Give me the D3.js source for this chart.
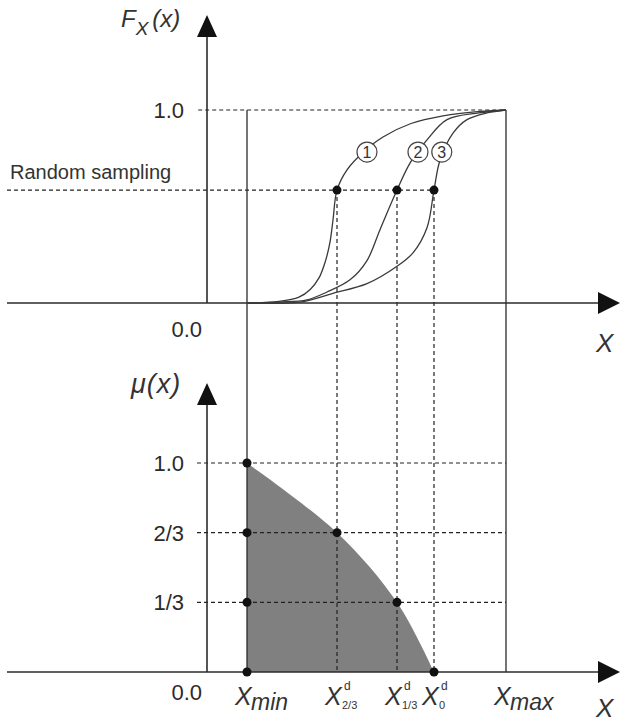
<!DOCTYPE html>
<html>
<head>
<meta charset="utf-8">
<script src="https://cdn.jsdelivr.net/npm/d3@7"></script>
<style>
  html, body { margin: 0; padding: 0; background: #fff; }
  svg { display: block; font-family: "Liberation Sans", Arial, sans-serif; }
  .axis-line { stroke: #2b2b2b; stroke-width: 1.6; fill: none; }
  .solid-line { stroke: #2b2b2b; stroke-width: 1.3; fill: none; }
  .dashed { stroke: #222; stroke-width: 1.2; stroke-dasharray: 4,3; fill: none; }
  .cdf { stroke: #3a3a3a; stroke-width: 1.3; fill: none; }
  .tick-label { font-size: 22px; fill: #2b2b2b; }
</style>
</head>
<body>
<svg id="chart" width="621" height="722"></svg>
<script>
// CDF curves: [x, F(x)]
const curve1 = [[1.0, 0], [1.8, 0.008], [2.3, 0.03], [2.58, 0.07], [2.8, 0.13], [2.95, 0.21],
    [3.07, 0.31], [3.15, 0.43], [3.25, 0.585], [3.5, 0.69], [3.9, 0.78], [4.4, 0.86],
    [5.1, 0.93], [5.9, 0.97], [6.7, 0.99], [7.475, 1.0]];
const curve2 = [[1.0, 0], [1.8, 0.005], [2.5, 0.016], [3.0, 0.057], [3.575, 0.12], [4.0, 0.22],
    [4.325, 0.38], [4.75, 0.585], [5.075, 0.725], [5.5, 0.845], [6.0, 0.95], [6.8, 0.985], [7.475, 1.0]];
const curve3 = [[1.0, 0], [2.325, 0.005], [3.15, 0.05], [4.0, 0.1], [4.75, 0.19], [5.15, 0.26],
    [5.5, 0.39], [5.675, 0.585], [5.825, 0.74], [6.15, 0.88], [6.5, 0.95], [7.0, 0.985], [7.475, 1.0]];
const curves = [curve1, curve2, curve3];
const curveTags = ['1', '2', '3'];
const curveTagPos = [[4.0, 0.782], [5.275, 0.782], [5.87, 0.782]];

const xMin = 1.0;
const xMax = 7.475;
const sampleLevel = 0.585;
const sampleX = [3.25, 4.75, 5.675];

// membership levels and the x^d points
const muLevels = [1, 2 / 3, 1 / 3];
const muLevelLabels = ['1.0', '2/3', '1/3'];
const muEdge = [[1.0, 1], [3.25, 2 / 3], [4.75, 1 / 3], [5.675, 0]];
const xLabelPos = [1.0, 3.25, 4.75, 5.675, 7.475];
const xLabelSub = ['min', '2/3', '1/3', '0', 'max'];
const xLabelSup = ['', 'd', 'd', 'd', ''];

const svg = d3.select('#chart');

const x = d3.scaleLinear().domain([0, 10]).range([207, 607]);
const yTop = d3.scaleLinear().domain([0, 1]).range([303, 110]);
const yBot = d3.scaleLinear().domain([0, 1]).range([672, 463]);

// shaded membership area
const area = d3.area()
    .x(d => x(d[0]))
    .y0(yBot(0))
    .y1(d => yBot(d[1]))
    .curve(d3.curveCatmullRom.alpha(0.5));
svg.append('path')
    .datum(muEdge)
    .attr('d', area)
    .attr('fill', '#808080');

// dashed guides
const hDash = (y, x0, x1) => svg.append('line')
    .attr('class', 'dashed')
    .attr('x1', x0).attr('x2', x1)
    .attr('y1', y).attr('y2', y);

hDash(yTop(1), x(-0.22), x(xMax));
hDash(yTop(sampleLevel), x(-5), x(sampleX[2]));
muLevels.forEach(l => hDash(yBot(l), x(-0.25), x(xMax)));

svg.selectAll('line.vdash')
    .data(sampleX)
    .enter()
    .append('line')
    .attr('class', 'dashed vdash')
    .attr('x1', d => x(d)).attr('x2', d => x(d))
    .attr('y1', yTop(sampleLevel))
    .attr('y2', yBot(0));

// x_min / x_max verticals
[xMin, xMax].forEach(v => svg.append('line')
    .attr('class', 'solid-line')
    .attr('x1', x(v)).attr('x2', x(v))
    .attr('y1', yTop(1)).attr('y2', yBot(0)));

// axes with arrow heads
const drawAxes = (yScale, yTip) => {
    svg.append('line').attr('class', 'axis-line')
        .attr('x1', x(-5)).attr('x2', x(9.9))
        .attr('y1', yScale(0)).attr('y2', yScale(0));
    svg.append('line').attr('class', 'axis-line')
        .attr('x1', x(0)).attr('x2', x(0))
        .attr('y1', yScale(0)).attr('y2', yScale(yTip) + 10);
    const ax = x(10.325), ay = yScale(0);
    svg.append('path')
        .attr('d', `M${ax},${ay} L${ax - 22},${ay - 11} L${ax - 22},${ay + 11} Z`)
        .attr('fill', '#111');
    const tx = x(0), ty = yScale(yTip);
    svg.append('path')
        .attr('d', `M${tx},${ty} L${tx - 10},${ty + 22} L${tx + 10},${ty + 22} Z`)
        .attr('fill', '#111');
};
drawAxes(yTop, 1.492);
drawAxes(yBot, 1.383);

// CDF curves
const line = d3.line()
    .x(d => x(d[0]))
    .y(d => yTop(d[1]))
    .curve(d3.curveCatmullRom.alpha(0.5));
svg.selectAll('path.cdf')
    .data(curves)
    .enter()
    .append('path')
    .attr('class', 'cdf')
    .attr('d', line);

// circled curve numbers
const tags = svg.selectAll('g.tag')
    .data(curveTags)
    .enter()
    .append('g')
    .attr('class', 'tag')
    .attr('transform', (d, i) => `translate(${x(curveTagPos[i][0])}, ${yTop(curveTagPos[i][1])})`);
tags.append('circle')
    .attr('r', 10)
    .attr('fill', '#fff')
    .attr('stroke', '#444')
    .attr('stroke-width', 1.2);
tags.append('text')
    .attr('text-anchor', 'middle')
    .attr('dy', '0.36em')
    .style('font-size', '16px')
    .attr('fill', '#333')
    .text(d => d);

// sample dots
const dots = [
    ...sampleX.map(v => [x(v), yTop(sampleLevel)]),
    [x(xMin), yBot(1)], [x(xMin), yBot(2 / 3)], [x(xMin), yBot(1 / 3)], [x(xMin), yBot(0)],
    [x(muEdge[1][0]), yBot(muEdge[1][1])],
    [x(muEdge[2][0]), yBot(muEdge[2][1])],
    [x(muEdge[3][0]), yBot(muEdge[3][1])]
];
svg.selectAll('circle.dot')
    .data(dots)
    .enter()
    .append('circle')
    .attr('class', 'dot')
    .attr('cx', d => d[0])
    .attr('cy', d => d[1])
    .attr('r', 4.5)
    .attr('fill', '#111');

// tick labels
svg.append('text').attr('class', 'tick-label')
    .attr('x', 184).attr('y', yTop(1) + 8)
    .attr('text-anchor', 'end').text('1.0');
svg.append('text').attr('class', 'tick-label')
    .attr('x', 202).attr('y', 337)
    .attr('text-anchor', 'end').text('0.0');
svg.append('text').attr('class', 'tick-label')
    .attr('x', 202).attr('y', 700)
    .attr('text-anchor', 'end').text('0.0');
svg.selectAll('text.mu-label')
    .data(muLevelLabels)
    .enter()
    .append('text')
    .attr('class', 'tick-label mu-label')
    .attr('x', 184)
    .attr('y', (d, i) => yBot(muLevels[i]) + 8)
    .attr('text-anchor', 'end')
    .text(d => d);

svg.append('text')
    .attr('x', 10).attr('y', 179)
    .style('font-size', '20px')
    .attr('fill', '#333')
    .text('Random sampling');

// axis titles
const fLabel = svg.append('text')
    .attr('x', 121).attr('y', 27)
    .attr('fill', '#333')
    .style('font-style', 'italic')
    .style('font-size', '24px');
fLabel.append('tspan').text('F');
fLabel.append('tspan').attr('dy', 8).style('font-size', '19px').text('X');
fLabel.append('tspan').attr('dy', -8).attr('dx', 4).text('(x)');

svg.append('text')
    .attr('x', 131).attr('y', 393)
    .attr('fill', '#333')
    .style('font-style', 'italic')
    .style('font-size', '27px')
    .attr('letter-spacing', 1)
    .text('\u03bc(x)');

[352, 717].forEach(by => svg.append('text')
    .attr('x', 596).attr('y', by)
    .attr('fill', '#333')
    .style('font-style', 'italic')
    .style('font-size', '26px')
    .text('X'));

// x point labels
const xLabels = svg.selectAll('g.xlabel')
    .data(xLabelPos)
    .enter()
    .append('g')
    .attr('class', 'xlabel')
    .attr('transform', d => `translate(${x(d) - 12}, 705)`)
    .attr('fill', '#333');
xLabels.append('text')
    .style('font-style', 'italic')
    .style('font-size', '25px')
    .text('X');
xLabels.append('text')
    .attr('x', (d, i) => xLabelSup[i] ? 17 : 16)
    .attr('y', (d, i) => xLabelSup[i] ? 4 : 5)
    .style('font-style', (d, i) => xLabelSup[i] ? 'normal' : 'italic')
    .style('font-size', (d, i) => xLabelSup[i] ? '11px' : '23px')
    .text((d, i) => xLabelSub[i]);
xLabels.append('text')
    .attr('x', 19)
    .attr('y', -15)
    .style('font-size', '12px')
    .text((d, i) => xLabelSup[i]);
</script>
</body>
</html>
